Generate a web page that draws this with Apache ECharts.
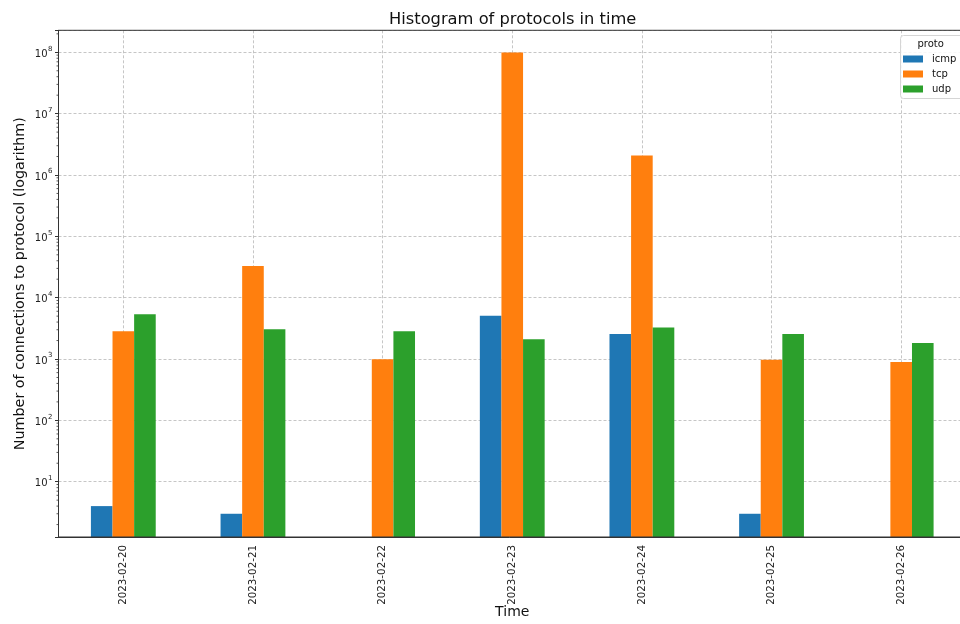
<!DOCTYPE html>
<html><head><meta charset="utf-8">
<script src="https://cdn.jsdelivr.net/npm/echarts@6/dist/echarts.min.js"></script>
<style>html,body{margin:0;padding:0;background:#fff}#c{width:960px;height:624px}</style>
</head><body><div id="c"></div>
<script>
const categories = ['2023-02-20','2023-02-21','2023-02-22','2023-02-23','2023-02-24','2023-02-25','2023-02-26'];
const icmp = [4, 3, null, 5080, 2550, 3, null];
const tcp = [2830, 32900, 990, 99700000, 2070000, 975, 893];
const udp = [5360, 3060, 2830, 2090, 3250, 2550, 1825];
const seriesNames = ['icmp', 'tcp', 'udp'];
const colors = ['#1f77b4', '#ff7f0e', '#2ca02c'];
const yMin = 1.254, yMax = 2.284e8;
const minorMultipliers = [2,3,4,5,6,7,8,9];
const minorDecades = [0,1,2,3,4,5,6,7,8];

const minorTicks = [];
minorDecades.forEach(d => minorMultipliers.forEach(m => {
  const v = m * Math.pow(10, d);
  if (v > yMin && v < yMax) minorTicks.push([0, v]);
}));

const GL = 58.5, GT = 30.3, GB = 537, GW = 907.5;
const chart = echarts.init(document.getElementById('c'), null, {renderer: 'canvas'});
const font = 'DejaVu Sans';
const gridColor = '#b8b8b8';

function barSeries(name, data, color) {
  return {
    name, type: 'bar', data, barGap: '0%', barCategoryGap: '50%',
    itemStyle: {color}, clip: true, z: 2,
    emphasis: {disabled: true}, animation: false
  };
}

chart.setOption({
  animation: false,
  textStyle: {fontFamily: font},
  title: {
    text: 'Histogram of protocols in time', left: 384, top: 7,
    textStyle: {fontFamily: font, fontSize: 16.3, fontWeight: 'normal', color: '#111'}
  },
  grid: {left: GL, top: GT, width: GW, height: GB - GT, show: true, borderColor: '#333', borderWidth: 1,
         containLabel: false, outerBoundsMode: 'none', z: 10},
  legend: {
    orient: 'vertical', left: 903, top: 53, padding: 0, itemGap: 3,
    itemWidth: 20, itemHeight: 7, icon: 'rect', z: 20,
    textStyle: {fontFamily: font, fontSize: 10, color: '#111', lineHeight: 12, padding: [0, 0, 0, 4]},
    data: seriesNames, selectedMode: false
  },
  graphic: [
    {type: 'rect', shape: {x: 900.5, y: 35.5, width: 70, height: 63, r: 3}, z: 15,
     style: {fill: 'rgba(255,255,255,0.85)', stroke: '#d5d5d5', lineWidth: 1}},
    {type: 'text', x: 930.7, y: 44, z: 21,
     style: {text: 'proto', fontFamily: font, fontSize: 10, fill: '#111', align: 'center', verticalAlign: 'middle'}}
  ],
  xAxis: {
    type: 'category', data: categories,
    name: 'Time', nameLocation: 'middle', nameGap: 68, nameMoveOverlap: false,
    nameTextStyle: {fontFamily: font, fontSize: 14, color: '#111'},
    axisLine: {lineStyle: {color: '#333', width: 1}},
    axisTick: {alignWithLabel: true, length: 3.5, lineStyle: {color: '#333'}},
    axisLabel: {rotate: 90, fontSize: 10.3, fontFamily: font, color: '#222', margin: 8, interval: 0},
    splitLine: {show: true, alignWithLabel: true, lineStyle: {color: gridColor, type: [3, 2], width: 0.8}}
  },
  yAxis: {
    type: 'log', logBase: 10, min: yMin, max: yMax, splitNumber: 8,
    name: 'Number of connections to protocol (logarithm)', nameLocation: 'middle', nameGap: 31, nameMoveOverlap: false,
    nameTextStyle: {fontFamily: font, fontSize: 14.3, color: '#111'},
    axisLine: {show: true, lineStyle: {color: '#333', width: 1}},
    axisTick: {show: true, length: 3.5, lineStyle: {color: '#333'}},
    axisLabel: {
      fontSize: 10, fontFamily: font, color: '#222', margin: 6,
      formatter: v => {
        const e = Math.log10(v);
        if (Math.abs(e - Math.round(e)) > 1e-6) return '';
        return '{b|10}{e|' + Math.round(e) + '}';
      },
      rich: {
        b: {fontSize: 10, fontFamily: font, color: '#222', lineHeight: 14, verticalAlign: 'bottom'},
        e: {fontSize: 7, fontFamily: font, color: '#222', lineHeight: 14, verticalAlign: 'top', padding: [0, 0, 0, 0.5]}
      }
    },
    splitLine: {show: true, lineStyle: {color: gridColor, type: [3, 2], width: 0.8}}
  },
  series: [
    barSeries('icmp', icmp, colors[0]),
    barSeries('tcp', tcp, colors[1]),
    barSeries('udp', udp, colors[2]),
    {
      type: 'custom', name: 'minorTicks', data: minorTicks, silent: true, z: 5, clip: false,
      renderItem: (params, api) => {
        const p = api.coord([0, api.value(1)]);
        return {type: 'line', shape: {x1: GL - 2, y1: p[1], x2: GL, y2: p[1]}, style: {stroke: '#333', lineWidth: 0.8}};
      }
    }
  ]
});
</script></body></html>
